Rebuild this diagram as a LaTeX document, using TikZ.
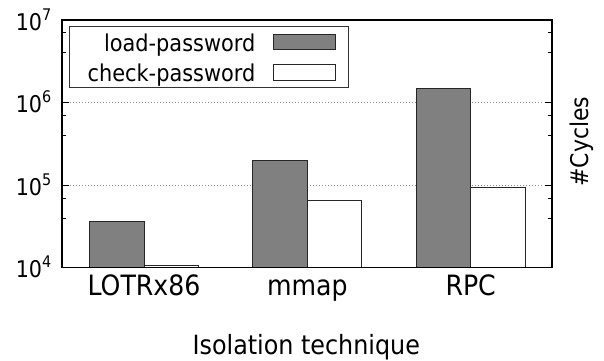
\documentclass[tikz,border=0pt]{standalone}
\usepackage{fontspec}
\setmainfont{DejaVu Sans Condensed}
\begin{document}
\begin{tikzpicture}[x=1pt,y=-1pt,
  barbase/.style={draw=black!85, line width=0.9pt},
  loadbar/.style={barbase, fill=black!50},
  checkbar/.style={barbase, fill=white},
  gridline/.style={black!45, line width=0.7pt, dash pattern=on 0.8pt off 2.2pt},
  axisframe/.style={black, line width=1.1pt},
  ticksty/.style={black, line width=0.8pt},
  legendbox/.style={draw=black!80, line width=0.9pt},
  ytick/.style={anchor=base east, inner sep=0pt, font=\fontsize{23}{23}\selectfont},
  xtick/.style={anchor=base, inner sep=0pt, font=\fontsize{28}{28}\selectfont},
  legtext/.style={anchor=base east, inner sep=0pt, font=\fontsize{23.2}{23.2}\selectfont},
  axlabel/.style={anchor=base, inner sep=0pt, font=\fontsize{26.5}{26.5}\selectfont}
]
\useasboundingbox (0,0) rectangle (604,360);
\def\Lx{62}\def\Rx{552}\def\Ty{20}\def\By{267.7}
% grid lines
\draw[gridline] (70,185.13) -- (544,185.13);
\draw[gridline] (70,102.57) -- (544,102.57);
% bars
\foreach \cx/\lt/\ct/\nm/\lab in {144/221.7/265.3/a/LOTRx86, 307.33/160.3/200.7/b/mmap, 470.67/88.3/187.7/c/RPC}{
  \draw[loadbar] (\cx-54.5,\lt) rectangle (\cx,\By);
  \draw[checkbar] (\cx,\ct) rectangle (\cx+54.5,\By);
  \node[xtick] (xl\nm) at (\cx,295.3) {\lab};
}
% frame
\draw[axisframe] (\Lx,\Ty) rectangle (\Rx,\By);
% major ticks
\foreach \yy in {185.13,102.57}{
  \draw[ticksty] (\Lx,\yy) -- (\Lx+7,\yy);
  \draw[ticksty] (\Rx,\yy) -- (\Rx-7,\yy);
}
% minor ticks
\foreach \yy in {217.99,197.92,135.42,115.35,52.86,32.79}{
  \draw[ticksty] (\Lx,\yy) -- (\Lx+3.8,\yy);
  \draw[ticksty] (\Rx,\yy) -- (\Rx-3.8,\yy);
}
% y tick labels
\foreach \yy/\ee in {267.7/4, 185.13/5, 102.57/6, 20/7}{
  \node[ytick] (yl\ee) at (51.5,\yy+10) {10\raisebox{10pt}{\fontsize{16}{16}\selectfont \ee}};
}
% legend
\draw[legendbox] (69.3,26.7) rectangle (348.3,87.7);
\node[legtext] (lt1) at (255.5,51.3) {load-password};
\node[legtext] (lt2) at (255.5,81.5) {check-password};
\draw[loadbar] (273.3,34.3) rectangle (335,49.3);
\draw[checkbar] (273.3,64.3) rectangle (335,80);
% axis labels
\node[axlabel] (xlab) at (306.3,354) {Isolation technique};
\node[anchor=base, inner sep=0pt, rotate=90, font=\fontsize{24.4}{24.4}\selectfont] (ylab) at (588.5,141.7) {\#Cycles};
\end{tikzpicture}
\end{document}
